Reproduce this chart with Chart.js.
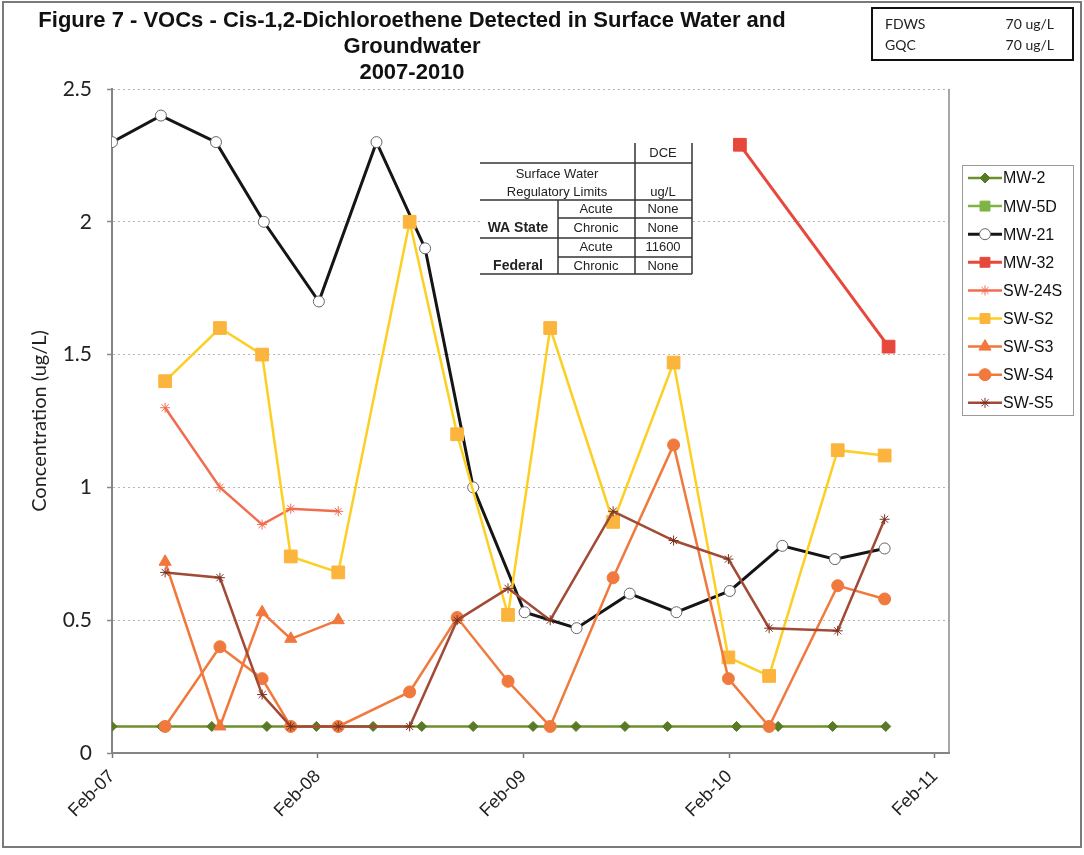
<!DOCTYPE html>
<html>
<head>
<meta charset="utf-8">
<title>Figure 7 - VOCs - Cis-1,2-Dichloroethene</title>
<script src="https://cdn.jsdelivr.net/npm/chart.js@4.4.0/dist/chart.umd.min.js"></script>
<style>
  html, body { margin: 0; padding: 0; background: #fff; }
  canvas { display: block; }
</style>
</head>
<body>
<canvas id="vocChart" width="1084" height="855"></canvas>
<script>
// Date axis labels, one per February
const xTickLabels = ['Feb-07', 'Feb-08', 'Feb-09', 'Feb-10', 'Feb-11'];
const yTickStep = 0.5;
const yMax = 2.5;

// Sampling dates
const mw2Dates = ['2007-02-01', '2007-04-28', '2007-07-26', '2007-11-02', '2008-01-29', '2008-05-08',
  '2008-08-03', '2008-11-03', '2009-02-18', '2009-05-03', '2009-07-29', '2009-10-13',
  '2010-02-14', '2010-04-27', '2010-08-02', '2010-11-05'];
const mw21Dates = ['2007-02-01', '2007-04-27', '2007-08-03', '2007-10-27', '2008-02-03', '2008-05-14',
  '2008-08-09', '2008-11-03', '2009-02-03', '2009-05-04', '2009-08-07', '2009-10-29',
  '2010-02-02', '2010-05-04', '2010-08-06', '2010-11-03'];
const mw32Dates = ['2010-02-20', '2010-11-10'];
const swDates = ['2007-05-04', '2007-08-10', '2007-10-24', '2007-12-14', '2008-03-07', '2008-07-12',
  '2008-10-05', '2009-01-04', '2009-03-18', '2009-07-08', '2009-10-24', '2010-01-30',
  '2010-04-11', '2010-08-11', '2010-11-03'];

// Concentrations (ug/L)
const mw2 = [0.1, 0.1, 0.1, 0.1, 0.1, 0.1, 0.1, 0.1, 0.1, 0.1, 0.1, 0.1, 0.1, 0.1, 0.1, 0.1];
const mw5d = [];
const mw21 = [2.3, 2.4, 2.3, 2.0, 1.7, 2.3, 1.9, 1.0, 0.53, 0.47, 0.6, 0.53, 0.61, 0.78, 0.73, 0.77];
const mw32 = [2.29, 1.53];
const sw24s = [1.30, 1.00, 0.86, 0.92, 0.91];
const swS2 = [1.40, 1.60, 1.50, 0.74, 0.68, 2.00, 1.20, 0.52, 1.60, 0.87, 1.47, 0.36, 0.29, 1.14, 1.12];
const swS3 = [0.72, 0.10, 0.53, 0.43, 0.50];
const swS4 = [0.10, 0.40, 0.28, 0.10, 0.10, 0.23, 0.51, 0.27, 0.10, 0.66, 1.16, 0.28, 0.10, 0.63, 0.58];
const swS5 = [0.68, 0.66, 0.22, 0.10, 0.10, 0.10, 0.50, 0.62, 0.50, 0.91, 0.80, 0.73, 0.47, 0.46, 0.88];

// x positions are months counted from 1 Feb 2007
function monthsFromFeb07(dateStr) {
  const [y, m, d] = dateStr.split('-').map(Number);
  return (y - 2007) * 12 + (m - 2) + (d - 1) / 30.44;
}
function toPoints(dates, values) {
  return values.map((v, i) => ({ x: monthsFromFeb07(dates[i]), y: v }));
}

function series(label, dates, values, style) {
  return Object.assign({
    label: label,
    data: toPoints(dates, values),
    borderWidth: 2.5,
    pointBorderWidth: 1,
    tension: 0,
    fill: false
  }, style);
}

const datasets = [
  series('MW-2', mw2Dates, mw2, { borderColor: '#6f8f2c', pointStyle: 'rectRot', pointRadius: 5,
    pointBackgroundColor: '#587a25', pointBorderColor: '#587a25' }),
  series('MW-5D', mw2Dates, mw5d, { borderColor: '#7db443', pointStyle: 'rect', pointRadius: 8,
    pointBackgroundColor: '#7db443', pointBorderColor: '#7db443' }),
  series('MW-21', mw21Dates, mw21, { borderColor: '#151515', borderWidth: 3, pointStyle: 'circle', pointRadius: 5.5,
    pointBackgroundColor: '#ffffff', pointBorderColor: '#666' }),
  series('MW-32', mw32Dates, mw32, { borderColor: '#e8473b', borderWidth: 3, pointStyle: 'rect', pointRadius: 9,
    pointBackgroundColor: '#e8473b', pointBorderColor: '#e8473b' }),
  series('SW-24S', swDates, sw24s, { borderColor: '#f26c50', pointStyle: 'star', pointRadius: 5,
    pointBackgroundColor: '#f26c50', pointBorderColor: '#f26c50' }),
  series('SW-S2', swDates, swS2, { borderColor: '#fdcf22', pointStyle: 'rect', pointRadius: 9,
    pointBackgroundColor: '#fbb43c', pointBorderColor: '#fbb43c' }),
  series('SW-S3', swDates, swS3, { borderColor: '#f2773c', pointStyle: 'triangle', pointRadius: 7,
    pointBackgroundColor: '#f2773c', pointBorderColor: '#f2773c' }),
  series('SW-S4', swDates, swS4, { borderColor: '#f07a3e', pointStyle: 'circle', pointRadius: 6,
    pointBackgroundColor: '#f07a3e', pointBorderColor: '#f07a3e' }),
  series('SW-S5', swDates, swS5, { borderColor: '#a14a36', pointStyle: 'star', pointRadius: 5,
    pointBackgroundColor: '#a14a36', pointBorderColor: '#7a3020' })
];
// Excel draws later series on top
datasets.forEach((ds, i) => { ds.order = -i; });

const FONT = '"Liberation Sans", Arial, sans-serif';
const SOFT = 'Lato, "Open Sans", sans-serif';

// White page, outer frame and plot box
const framePlugin = {
  id: 'frame',
  beforeDraw(chart) {
    const ctx = chart.ctx;
    ctx.save();
    ctx.fillStyle = '#fff';
    ctx.fillRect(0, 0, chart.width, chart.height);
    ctx.restore();
  },
  afterDraw(chart) {
    const ctx = chart.ctx;
    const a = chart.chartArea;
    ctx.save();
    ctx.strokeStyle = '#7a7a7a';
    ctx.lineWidth = 2;
    ctx.strokeRect(3, 2, chart.width - 6, 845);
    ctx.strokeStyle = '#8a8a8a';
    ctx.lineWidth = 1.5;
    ctx.beginPath();
    ctx.moveTo(a.right, a.top);
    ctx.lineTo(a.right, a.bottom);
    ctx.stroke();
    ctx.restore();
  }
};

// Title, off-centre like the original
const titlePlugin = {
  id: 'figTitle',
  afterDraw(chart) {
    const ctx = chart.ctx;
    const lines = ['Figure 7 - VOCs - Cis-1,2-Dichloroethene Detected in Surface Water and', 'Groundwater', '2007-2010'];
    ctx.save();
    ctx.fillStyle = '#111';
    ctx.font = 'bold 22px ' + FONT;
    ctx.textAlign = 'center';
    ctx.textBaseline = 'middle';
    lines.forEach((t, i) => ctx.fillText(t, 412, 21 + i * 26));
    ctx.restore();
  }
};

// FDWS / GQC box top right
const limitsPlugin = {
  id: 'limits',
  afterDraw(chart) {
    const ctx = chart.ctx;
    ctx.save();
    ctx.strokeStyle = '#111';
    ctx.lineWidth = 2;
    ctx.strokeRect(872, 8, 201, 52);
    ctx.fillStyle = '#222';
    ctx.font = '14px ' + SOFT;
    ctx.textBaseline = 'middle';
    ctx.textAlign = 'left';
    ctx.fillText('FDWS', 885, 24);
    ctx.fillText('GQC', 885, 45);
    ctx.textAlign = 'right';
    ctx.fillText('70 ug/L', 1054, 24);
    ctx.fillText('70 ug/L', 1054, 45);
    ctx.restore();
  }
};

// Surface water regulatory limits table
const tablePlugin = {
  id: 'regTable',
  afterDraw(chart) {
    const ctx = chart.ctx;
    const L = 480, C1 = 558, C2 = 635, R = 692;
    ctx.save();
    ctx.fillStyle = '#fff';
    ctx.fillRect(L, 143, R - L, 132);
    ctx.strokeStyle = '#333';
    ctx.lineWidth = 1.5;
    const seg = (x1, y1, x2, y2) => { ctx.beginPath(); ctx.moveTo(x1, y1); ctx.lineTo(x2, y2); ctx.stroke(); };
    seg(L, 163, R, 163); seg(L, 200, R, 200); seg(C1, 218, R, 218);
    seg(L, 238, R, 238); seg(C1, 257, R, 257); seg(L, 274, R, 274);
    seg(C2, 143, C2, 274); seg(R, 143, R, 274); seg(C1, 200, C1, 274);
    ctx.fillStyle = '#222';
    ctx.textAlign = 'center';
    ctx.textBaseline = 'middle';
    ctx.font = '13px ' + FONT;
    const cells = [
      ['DCE', 663, 153], ['Surface Water', 557, 174], ['Regulatory Limits', 557, 192], ['ug/L', 663, 192],
      ['Acute', 596, 209], ['None', 663, 209], ['Chronic', 596, 228], ['None', 663, 228],
      ['Acute', 596, 247], ['11600', 663, 247], ['Chronic', 596, 266], ['None', 663, 266]
    ];
    cells.forEach(c => ctx.fillText(c[0], c[1], c[2]));
    ctx.font = 'bold 14px ' + FONT;
    ctx.fillText('WA State', 518, 228);
    ctx.fillText('Federal', 518, 266);
    ctx.restore();
  }
};

// Excel style legend: line sample with marker
const legendPlugin = {
  id: 'sideLegend',
  afterDraw(chart) {
    const ctx = chart.ctx;
    ctx.save();
    ctx.strokeStyle = '#9a9a9a';
    ctx.lineWidth = 1;
    ctx.strokeRect(962.5, 165.5, 111, 250);
    chart.data.datasets.forEach((ds, i) => {
      const y = 178 + i * 28.1;
      ctx.strokeStyle = ds.borderColor;
      ctx.lineWidth = ds.borderWidth;
      ctx.beginPath();
      ctx.moveTo(968, y);
      ctx.lineTo(1002, y);
      ctx.stroke();
      ctx.fillStyle = ds.pointBackgroundColor;
      ctx.strokeStyle = ds.pointBorderColor;
      ctx.lineWidth = ds.pointBorderWidth;
      Chart.helpers.drawPoint(ctx, {
        pointStyle: ds.pointStyle,
        radius: Math.min(ds.pointRadius, 7),
        borderWidth: ds.pointBorderWidth,
        rotation: 0
      }, 985, y);
      ctx.fillStyle = '#111';
      ctx.font = '16px ' + FONT;
      ctx.textAlign = 'left';
      ctx.textBaseline = 'middle';
      ctx.fillText(ds.label, 1003, y + 1);
    });
    ctx.restore();
  }
};

const ctx = document.getElementById('vocChart').getContext('2d');
new Chart(ctx, {
  type: 'line',
  data: { datasets: datasets },
  plugins: [framePlugin, titlePlugin, limitsPlugin, tablePlugin, legendPlugin],
  options: {
    responsive: false,
    animation: false,
    layout: { padding: { top: 89, right: 135, bottom: 0, left: 0 } },
    plugins: {
      legend: { display: false },
      title: { display: false },
      tooltip: { enabled: false }
    },
    scales: {
      x: {
        type: 'linear',
        min: 0,
        max: 48.82,
        afterFit: s => { s.height = 102; },
        afterBuildTicks: s => { s.ticks = xTickLabels.map((_, i) => ({ value: i * 12 })); },
        ticks: {
          autoSkip: false,
          minRotation: 45,
          maxRotation: 45,
          padding: 8,
          color: '#222',
          font: { family: FONT, size: 18 },
          callback: v => xTickLabels[Math.round(v / 12)]
        },
        grid: { display: true, drawOnChartArea: false, tickLength: 5, tickColor: '#777', tickWidth: 1.5 },
        border: { display: true, color: '#858585', width: 2 }
      },
      y: {
        min: 0,
        max: yMax,
        afterFit: s => { s.width = 112; },
        ticks: {
          stepSize: yTickStep,
          padding: 15,
          color: '#222',
          font: { family: SOFT, size: 21 },
          callback: v => String(Number(v.toFixed(1)))
        },
        title: {
          display: true,
          text: 'Concentration (ug/L)',
          color: '#222',
          font: { family: SOFT, size: 20 },
          padding: { top: 28, bottom: 0 }
        },
        grid: { color: '#b4b4b4', lineWidth: 1, tickLength: 5, tickColor: '#888', tickWidth: 1.5 },
        border: { display: true, color: '#858585', width: 2, dash: [2, 3] }
      }
    }
  }
});
</script>
</body>
</html>
